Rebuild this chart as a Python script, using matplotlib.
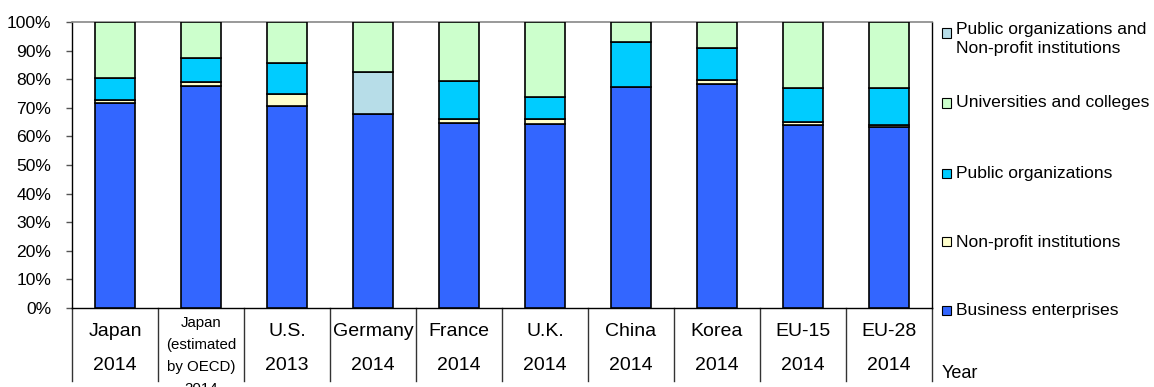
import numpy as np
import matplotlib
matplotlib.use("Agg")
import matplotlib.pyplot as plt
from matplotlib.patches import Rectangle

# share of R&D expenditure by performing sector (%)
countries = ["Japan", "Japan\n(estimated\nby OECD)", "U.S.", "Germany", "France",
             "U.K.", "China", "Korea", "EU-15", "EU-28"]
years = ["2014", "2014", "2013", "2014", "2014", "2014", "2014", "2014", "2014", "2014"]
business = [71.6, 77.6, 70.6, 67.7, 64.6, 64.3, 77.2, 78.2, 63.9, 63.2]
nonprofit = [1.1, 1.5, 4.1, 0.0, 1.6, 1.9, 0.0, 1.5, 1.0, 0.9]
public = [7.7, 8.3, 11.1, 0.0, 13.3, 7.6, 15.8, 11.2, 11.9, 12.7]
public_nonprofit = [0.0, 0.0, 0.0, 14.9, 0.0, 0.0, 0.0, 0.0, 0.0, 0.0]
universities = [19.6, 12.6, 14.2, 17.4, 20.5, 26.2, 7.0, 9.1, 23.2, 23.2]

series = [
    ("Business enterprises", business, "#3366FF"),
    ("Non-profit institutions", nonprofit, "#FFFFCC"),
    ("Public organizations", public, "#00CCFF"),
    ("Public organizations and\nNon-profit institutions", public_nonprofit, "#B7DDE8"),
    ("Universities and colleges", universities, "#CCFFCC"),
]

font = ["Liberation Sans", "DejaVu Sans"]

W, H = 1154, 387
fig = plt.figure(figsize=(W / 100, H / 100), dpi=100)
ax = fig.add_axes([72 / W, 1 - 308 / H, 860 / W, 286 / H])

x = np.arange(len(countries))
bottom = np.zeros(len(countries))
for name, vals, color in series:
    vals = np.array(vals)
    mask = vals > 0
    ax.bar(x[mask], vals[mask], bottom=bottom[mask], width=0.46, color=color,
           edgecolor="black", linewidth=1.2, zorder=3)
    bottom += vals

ax.set_xlim(-0.5, len(countries) - 0.5)
ax.set_ylim(0, 100)
ax.set_yticks(np.arange(0, 101, 10))
ax.set_yticklabels([f"{v}%" for v in range(0, 101, 10)], family=font, fontsize=12.6)
ax.tick_params(axis="y", length=4, width=1, color="#555555", pad=11)
ax.set_xticks([])

for side in ["left", "right", "bottom"]:
    ax.spines[side].set_color("black")
    ax.spines[side].set_linewidth(1)
ax.spines["top"].set_color("#888888")
ax.spines["top"].set_linewidth(1.2)

# category table under the axis
trans = ax.get_xaxis_transform()
def yfrac(ypix):
    return (308 - ypix) / 286

for i in range(len(countries) + 1):
    ax.plot([i - 0.5, i - 0.5], [0, yfrac(381)], transform=trans, color="#333333",
            linewidth=1, clip_on=False)
for i, (c, yr) in enumerate(zip(countries, years)):
    if "\n" in c:
        lines = c.split("\n") + [yr]
        for k, ln in enumerate(lines):
            ax.text(i, yfrac(323 + 22 * k), ln, transform=trans, ha="center",
                    va="center", family=font, fontsize=10.8)
    else:
        ax.text(i, yfrac(331), c, transform=trans, ha="center", va="center",
                family=font, fontsize=14)
        ax.text(i, yfrac(366), yr, transform=trans, ha="center", va="center",
                family=font, fontsize=14)

# legend at the right, top to bottom
legend_rows = [
    (series[3], 33),
    (series[4], 103),
    (series[2], 173),
    (series[1], 242),
    (series[0], 310),
]
sq = 9
for (name, vals, color), ypix in legend_rows:
    fig.patches.append(Rectangle((942 / W, 1 - (ypix + sq / 2) / H), sq / W, sq / H,
                                 transform=fig.transFigure, facecolor=color,
                                 edgecolor="black", linewidth=0.8))
    if "\n" in name:
        fig.text(956 / W, 1 - (ypix - 11) / H, name, ha="left", va="top",
                 family=font, fontsize=12.6, linespacing=1.35)
    else:
        fig.text(956 / W, 1 - ypix / H, name, ha="left", va="center",
                 family=font, fontsize=12.6)

fig.text(942 / W, 1 - 373 / H, "Year", ha="left", va="center", family=font, fontsize=13)

fig.savefig("out.png", dpi=100)
